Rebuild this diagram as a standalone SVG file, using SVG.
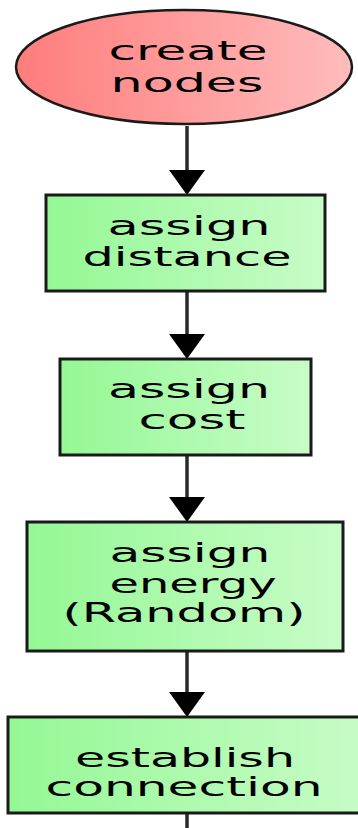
<svg xmlns="http://www.w3.org/2000/svg" width="358" height="828" viewBox="0 0 358 828">
<style>
.t{font-family:"DejaVu Sans",sans-serif;font-size:27px;fill:#000;text-anchor:middle}
.box{fill:url(#g);stroke:#1a1a1a;stroke-width:3}
.edge{stroke:#2a2a2a;stroke-width:3.5;fill:none}
.head{fill:#000}
</style>
<defs>
<linearGradient id="r" x1="0" y1="0" x2="1" y2="0"><stop offset="0" stop-color="#ff7c7c"/><stop offset="1" stop-color="#ffbcbc"/></linearGradient>
<linearGradient id="g" x1="0" y1="0" x2="1" y2="0"><stop offset="0" stop-color="#94f894"/><stop offset="1" stop-color="#c8fcc8"/></linearGradient>
</defs>
<g id="connectors">
<line class="edge" x1="187" y1="126" x2="187" y2="172"/>
<polygon class="head" points="169,170 205,170 187,195"/>
<line class="edge" x1="187" y1="291" x2="187" y2="336"/>
<polygon class="head" points="169,334 205,334 187,359"/>
<line class="edge" x1="187" y1="455" x2="187" y2="499"/>
<polygon class="head" points="169,497 205,497 187,522"/>
<line class="edge" x1="187" y1="651" x2="187" y2="694"/>
<polygon class="head" points="169,692 205,692 187,717"/>
<line class="edge" x1="187" y1="813" x2="187" y2="830"/>
</g>
<g id="n1">
<ellipse cx="184" cy="67" rx="168" ry="57" fill="url(#r)" stroke="#1a1a1a" stroke-width="2.5"/>
<text class="t" x="188" y="60" textLength="159" lengthAdjust="spacingAndGlyphs">create</text>
<text class="t" x="187" y="92" textLength="153" lengthAdjust="spacingAndGlyphs">nodes</text>
</g>
<g id="n2">
<rect class="box" x="46" y="195" width="279" height="96"/>
<text class="t" x="189" y="235" textLength="163" lengthAdjust="spacingAndGlyphs">assign</text>
<text class="t" x="187" y="266" textLength="209" lengthAdjust="spacingAndGlyphs">distance</text>
</g>
<g id="n3">
<rect class="box" x="60" y="359" width="251" height="96"/>
<text class="t" x="189" y="398" textLength="162" lengthAdjust="spacingAndGlyphs">assign</text>
<text class="t" x="192" y="429" textLength="107" lengthAdjust="spacingAndGlyphs">cost</text>
</g>
<g id="n4">
<rect class="box" x="27" y="522" width="316" height="129"/>
<text class="t" x="190" y="562" textLength="161" lengthAdjust="spacingAndGlyphs">assign</text>
<text class="t" x="193" y="593" textLength="167" lengthAdjust="spacingAndGlyphs">energy</text>
<text class="t" x="184" y="622" textLength="243" lengthAdjust="spacingAndGlyphs">(Random)</text>
</g>
<g id="n5">
<rect class="box" x="8" y="717" width="364" height="96"/>
<text class="t" x="185" y="767" textLength="220" lengthAdjust="spacingAndGlyphs">establish</text>
<text class="t" x="184" y="796" textLength="277" lengthAdjust="spacingAndGlyphs">connection</text>
</g>
</svg>
